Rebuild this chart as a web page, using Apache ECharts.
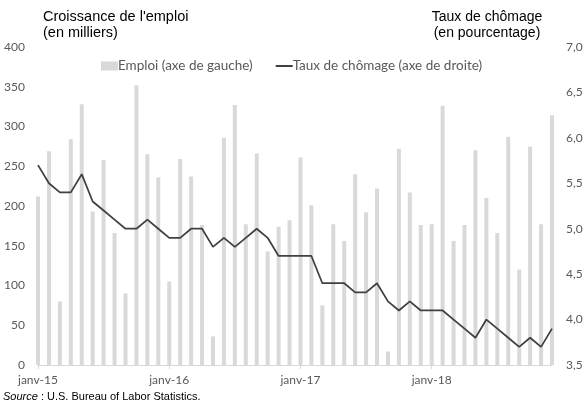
<!DOCTYPE html>
<html>
<head>
<meta charset="utf-8">
<script src="https://cdn.jsdelivr.net/npm/echarts@6/dist/echarts.min.js"></script>
<style>
  html, body { margin: 0; padding: 0; background: #fff; }
  #chart { width: 587px; height: 408px; }
</style>
</head>
<body>
<div id="chart"></div>
<script>
// mois de janv-15 à déc-18
const moisAbr = ["janv", "févr", "mars", "avr", "mai", "juin", "juil", "août", "sept", "oct", "nov", "déc"];
const annees = ["15", "16", "17", "18"];
const categories = [];
annees.forEach((a) => moisAbr.forEach((m) => categories.push(m + "-" + a)));

// croissance de l'emploi (milliers)
const emploi = [
  212, 269, 80, 284, 328, 193, 258, 166, 90, 352, 265, 236,
  105, 259, 237, 176, 36, 286, 327, 177, 266, 143, 174, 182,
  261, 201, 75, 177, 156, 240, 192, 222, 17, 272, 217, 176,
  177, 326, 156, 176, 270, 210, 166, 287, 120, 275, 177, 314,
];

// taux de chômage (%)
const chomage = [
  5.7, 5.5, 5.4, 5.4, 5.6, 5.3, 5.2, 5.1, 5.0, 5.0, 5.1, 5.0,
  4.9, 4.9, 5.0, 5.0, 4.8, 4.9, 4.8, 4.9, 5.0, 4.9, 4.7, 4.7,
  4.7, 4.7, 4.4, 4.4, 4.4, 4.3, 4.3, 4.4, 4.2, 4.1, 4.2, 4.1,
  4.1, 4.1, 4.0, 3.9, 3.8, 4.0, 3.9, 3.8, 3.7, 3.8, 3.7, 3.9,
];

const chart = echarts.init(document.getElementById("chart"));
const axisFont = { color: "#595959", fontFamily: "Lato", fontSize: 12 };

chart.setOption({
  animation: false,
  grid: { left: 38, right: 35, top: 47, bottom: 43 },
  legend: {
    top: 54,
    left: 96,
    itemGap: 22,
    itemWidth: 17,
    itemHeight: 9,
    textStyle: { color: "#595959", fontFamily: "Lato", fontSize: 13.5, padding: [0, 0, 0, -5] },
    data: [
      { name: "Emploi (axe de gauche)", icon: "rect" },
      { name: "Taux de chômage (axe de droite)", itemStyle: { opacity: 0 } },
    ],
  },
  graphic: [
    {
      type: "text", left: 43, top: 9,
      style: { text: "Croissance de l'emploi\n(en milliers)", fill: "#000", font: "14.5px 'Liberation Sans'", lineHeight: 16 },
    },
    {
      type: "text", x: 487, y: 9,
      style: { text: "Taux de chômage\n(en pourcentage)", fill: "#000", font: "14px 'Liberation Sans'", lineHeight: 16, align: "center" },
    },
    {
      type: "text", left: 3, top: 391,
      style: {
        text: "{i|Source} : U.S. Bureau of Labor Statistics.",
        fill: "#000", font: "11px 'Liberation Sans'",
        rich: { i: { fontStyle: "italic", fontFamily: "Liberation Sans", fontSize: 11, fill: "#000" } },
      },
    },
  ],
  xAxis: {
    type: "category",
    data: categories,
    boundaryGap: false,
    axisLine: { lineStyle: { color: "#d9d9d9" } },
    axisTick: { length: 4, lineStyle: { color: "#d9d9d9" }, interval: (i) => i % 12 === 0 },
    axisLabel: Object.assign({ interval: (i) => i % 12 === 0, margin: 9 }, axisFont),
  },
  yAxis: [
    {
      type: "value", min: 0, max: 400, interval: 50,
      splitLine: { show: false },
      axisLine: { show: false }, axisTick: { show: false },
      axisLabel: Object.assign({ margin: 13 }, axisFont),
    },
    {
      type: "value", min: 3.5, max: 7, interval: 0.5,
      splitLine: { show: false },
      axisLine: { show: false }, axisTick: { show: false },
      axisLabel: Object.assign({ margin: 14, formatter: (v) => v.toFixed(1).replace(".", ",") }, axisFont),
    },
  ],
  series: [
    {
      name: "Emploi (axe de gauche)",
      type: "bar",
      data: emploi,
      barWidth: 4,
      itemStyle: { color: "#d9d9d9" },
    },
    {
      name: "Taux de chômage (axe de droite)",
      type: "line",
      yAxisIndex: 1,
      data: chomage,
      symbol: "none",
      lineStyle: { color: "#404040", width: 1.75 },
      itemStyle: { color: "#404040" },
    },
  ],
});
</script>
</body>
</html>
